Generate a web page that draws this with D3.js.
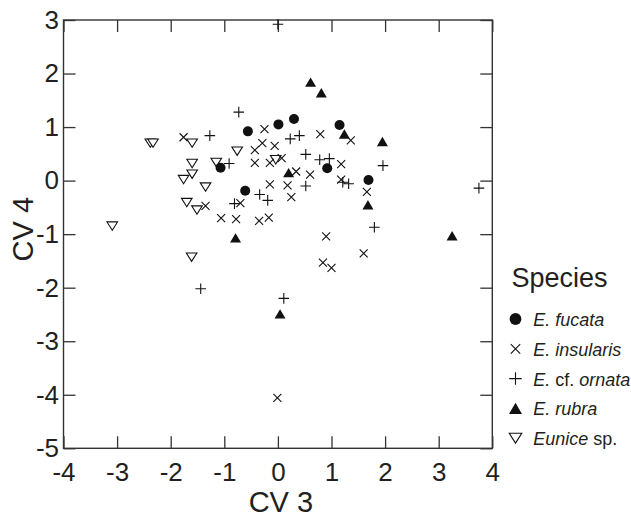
<!DOCTYPE html>
<html><head><meta charset="utf-8">
<script src="https://cdn.jsdelivr.net/npm/d3@7"></script>
<style>
body{margin:0;background:#fff;}
svg{display:block;font-family:"Liberation Sans",Arial,Helvetica,sans-serif;}
</style></head>
<body>
<svg id="chart" width="631" height="518"></svg>
<script>
// ---- data (CV3, CV4) ----
const speciesNames = ["E. fucata","E. insularis","E. cf. ornata","E. rubra","Eunice sp."];
const fucata = [[-0.56,0.92],[0.01,1.05],[0.30,1.15],[1.15,1.04],[-1.07,0.24],[-0.61,-0.19],[0.92,0.23],[1.69,0.01]];
const insularis = [[-1.76,0.81],[-0.25,0.96],[-0.29,0.70],[-0.43,0.57],[-0.06,0.65],[-0.43,0.33],[-0.15,0.33],[0.07,0.42],
  [0.79,0.87],[1.36,0.75],[1.18,0.31],[0.34,0.17],[0.60,0.11],[1.18,0.02],[1.66,-0.21],[-0.15,-0.07],[0.18,-0.09],
  [0.25,-0.31],[-1.35,-0.47],[-0.70,-0.42],[-1.06,-0.70],[-0.78,-0.72],[-0.35,-0.75],[-0.17,-0.69],[0.90,-1.04],
  [0.84,-1.53],[1.00,-1.63],[1.60,-1.36],[-0.01,-4.06]];
const ornata = [[0.00,2.92],[-1.27,0.84],[-0.73,1.28],[-0.91,0.32],[-0.34,-0.26],[-0.19,-0.37],[-0.81,-0.43],[0.23,0.78],
  [0.40,0.84],[0.52,0.49],[0.78,0.39],[0.96,0.41],[1.96,0.28],[0.52,-0.10],[1.21,-0.03],[1.32,-0.06],[1.80,-0.87],
  [3.75,-0.14],[-1.44,-2.02],[0.11,-2.20]];
const rubra = [[0.61,1.84],[0.81,1.64],[1.24,0.87],[1.95,0.73],[0.20,0.15],[1.68,-0.45],[-0.79,-1.07],[3.25,-1.03],[0.04,-2.49]];
const eunice = [[-3.09,-0.85],[-2.38,0.70],[-2.33,0.70],[-1.60,0.70],[-0.76,0.55],[-1.60,0.32],[-1.15,0.34],[-1.60,0.12],
  [-1.76,0.02],[-1.35,-0.12],[-1.70,-0.41],[-1.51,-0.55],[-1.61,-1.43],[-0.04,0.39]];
const xTicks = [-4,-3,-2,-1,0,1,2,3,4];
const yTicks = [-5,-4,-3,-2,-1,0,1,2,3];
const xTitle = "CV 3", yTitle = "CV 4", legendTitle = "Species";

// ---- layout ----
const svg = d3.select("#chart");
const L = 63.5, R = 492.3, T = 20, B = 448.3;
const x = d3.scaleLinear().domain([-4,4]).range([L,R]);
const y = d3.scaleLinear().domain([-5,3]).range([B,T]);
const axisColor = "#333", ink = "#111", textColor = "#231f20";

// marker path generators (size factor s)
function markerPath(kind, s){
  const p = d3.path();
  if(kind===0){ const r=5*s; p.moveTo(r,0); p.arc(0,0,r,0,2*Math.PI); }
  else if(kind===1){ const h=4*s; p.moveTo(-h,-h); p.lineTo(h,h); p.moveTo(-h,h); p.lineTo(h,-h); }
  else if(kind===2){ const h=5.3*s; p.moveTo(-h,0); p.lineTo(h,0); p.moveTo(0,-h); p.lineTo(0,h); }
  else if(kind===3){ const w=5.5*s, hh=4.7*s; p.moveTo(0,-hh); p.lineTo(w,hh); p.lineTo(-w,hh); p.closePath(); }
  else { const w=5.3*s, hh=4.2*s; p.moveTo(-w,-hh); p.lineTo(w,-hh); p.lineTo(0,hh); p.closePath(); }
  return p.toString();
}
function markerStyle(sel, kind){
  if(kind===0 || kind===3) sel.attr("fill",ink).attr("stroke","none");
  else sel.attr("fill", kind===4 ? "#fff" : "none").attr("stroke",ink).attr("stroke-width",1.1);
}

// ---- axes ----
const fs = "26px";
const gB = svg.append("g").attr("transform",`translate(0,${B})`)
  .call(d3.axisBottom(x).tickValues(xTicks).tickSizeInner(-12).tickSizeOuter(0).tickPadding(14.5).tickFormat(d3.format("d")));
const gL = svg.append("g").attr("transform",`translate(${L},0)`)
  .call(d3.axisLeft(y).tickValues(yTicks).tickSizeInner(-12).tickSizeOuter(0).tickPadding(4.5).tickFormat(d3.format("d")));
const gT = svg.append("g").attr("transform",`translate(0,${T})`)
  .call(d3.axisTop(x).tickValues(xTicks).tickSizeInner(-12).tickSizeOuter(0).tickFormat(""));
const gR = svg.append("g").attr("transform",`translate(${R},0)`)
  .call(d3.axisRight(y).tickValues(yTicks).tickSizeInner(-12).tickSizeOuter(0).tickFormat(""));
[gB,gL,gT,gR].forEach(g=>{
  g.select(".domain").remove();
  g.selectAll(".tick line").attr("stroke",axisColor).attr("stroke-width",1.3);
  g.selectAll(".tick text").attr("fill",textColor).style("font-size",fs).style("font-family","inherit");
});
gB.selectAll(".tick text").text(d=>d<0? "-"+Math.abs(d) : d);
gL.selectAll(".tick text").text(d=>d<0? "-"+Math.abs(d) : d);

svg.append("rect").attr("x",L).attr("y",T).attr("width",R-L).attr("height",B-T)
  .attr("fill","none").attr("stroke",axisColor).attr("stroke-width",1.4);

// axis titles
svg.append("text").attr("x",(L+R)/2+3).attr("y",511.5).attr("text-anchor","middle")
  .attr("fill",textColor).style("font-size","29px").text(xTitle);
svg.append("text").attr("transform",`translate(32.5,${(T+B)/2-5}) rotate(-90)`).attr("text-anchor","middle")
  .attr("fill",textColor).style("font-size","29px").text(yTitle);

// ---- points ----
const series = [fucata, insularis, ornata, rubra, eunice];
const drawOrder = [4,1,2,0,3];
const gP = svg.append("g");
drawOrder.forEach(k=>{
  gP.selectAll(null).data(series[k]).enter().append("path")
    .attr("transform",d=>`translate(${x(d[0])},${y(d[1])})`)
    .attr("d",markerPath(k,1))
    .call(markerStyle,k);
});

// ---- legend ----
const lg = svg.append("g");
lg.append("text").attr("x",511.5).attr("y",286.7).attr("fill",textColor).style("font-size","27px").text(legendTitle);
speciesNames.forEach((name,i)=>{
  const by = 326 + i*29.8;
  lg.append("path").attr("transform",`translate(515.5,${by-7})`).attr("d",markerPath(i,1.18)).call(markerStyle,i);
  const t = lg.append("text").attr("x",533.3).attr("y",by).attr("fill",textColor).style("font-size","18px");
  if(i===2){
    t.append("tspan").style("font-style","italic").text("E.");
    t.append("tspan").text(" cf. ");
    t.append("tspan").style("font-style","italic").text("ornata");
  } else if(i===4){
    t.append("tspan").style("font-style","italic").text("Eunice");
    t.append("tspan").text(" sp.");
  } else {
    t.append("tspan").style("font-style","italic").text(name);
  }
});
</script>
</body></html>
